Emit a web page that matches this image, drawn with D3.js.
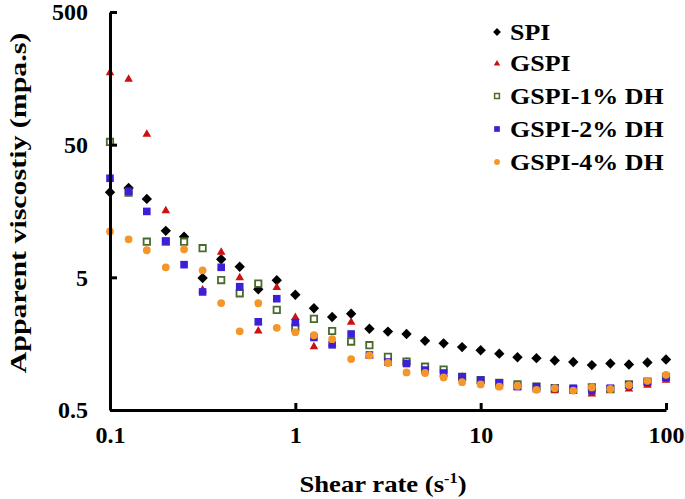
<!DOCTYPE html>
<html>
<head>
<meta charset="utf-8">
<script src="https://cdn.jsdelivr.net/npm/d3@7"></script>
<style>
  html, body { margin: 0; padding: 0; background: #fff; }
  svg { display: block; }
  text { font-family: "Liberation Serif", "Times New Roman", serif; font-weight: bold; fill: #000; }
</style>
</head>
<body>
<svg id="chart" width="685" height="499"></svg>
<script>
// ---- data ----
const shearRates = [0.1, 0.126, 0.158, 0.2, 0.251, 0.316, 0.398, 0.501, 0.631, 0.794,
  1, 1.26, 1.58, 2, 2.51, 3.16, 3.98, 5.01, 6.31, 7.94,
  10, 12.6, 15.8, 20, 25.1, 31.6, 39.8, 50.1, 63.1, 79.4, 100];

const spi = [21.9, 23.6, 19.5, 11.2, 10.1, 4.94, 6.84, 6.01, 4.06, 4.75,
  3.70, 2.92, 2.51, 2.66, 2.05, 1.95, 1.87, 1.66, 1.59, 1.49,
  1.41, 1.33, 1.25, 1.23, 1.18, 1.15, 1.09, 1.12, 1.10, 1.14, 1.20];

const gspi = [177, 158, 60.9, 16.1, 9.4, 4.08, 7.85, 5.05, 2.00, 4.25,
  2.53, 1.52, 1.60, 2.33, 1.30, 1.19, 1.17, 1.02, 0.95, 0.90,
  0.84, 0.77, 0.75, 0.72, 0.71, 0.70, 0.67, 0.71, 0.73, 0.78, 0.85];

const gspi1 = [52.4, 21.7, 9.28, 9.3, 9.28, 8.29, 4.77, 3.79, 4.48, 2.84,
  2.09, 2.43, 1.97, 1.64, 1.54, 1.26, 1.16, 1.06, 1.01, 0.89,
  0.84, 0.80, 0.78, 0.75, 0.73, 0.72, 0.74, 0.72, 0.78, 0.82, 0.89];

const gspi2 = [27.9, 22.3, 15.7, 9.39, 6.23, 3.88, 5.95, 4.25, 2.31, 3.45,
  2.28, 1.76, 1.55, 1.87, 1.30, 1.15, 1.12, 1.00, 0.95, 0.89,
  0.84, 0.80, 0.75, 0.75, 0.73, 0.73, 0.70, 0.73, 0.77, 0.81, 0.88];

const gspi4 = [11.1, 9.67, 8.00, 5.95, 8.13, 5.65, 3.20, 1.96, 3.19, 2.08,
  1.93, 1.83, 1.71, 1.21, 1.29, 1.13, 0.96, 0.95, 0.88, 0.81,
  0.78, 0.75, 0.76, 0.71, 0.73, 0.70, 0.74, 0.72, 0.77, 0.83, 0.92];

const seriesNames = ["SPI", "GSPI", "GSPI-1% DH", "GSPI-2% DH", "GSPI-4% DH"];
const xTicks = [0.1, 1, 10, 100];
const yTicks = [0.5, 5, 50, 500];
const xTickLabels = ["0.1", "1", "10", "100"];
const yTickLabels = ["0.5", "5", "50", "500"];

// ---- styles ----
const styles = [
  { shape: "diamond", fill: "#000000", stroke: "none" },
  { shape: "triangle", fill: "#cc1111", stroke: "none" },
  { shape: "square", fill: "#ffffff", stroke: "#4b6b2c" },
  { shape: "fsquare", fill: "#3b1fd9", stroke: "none" },
  { shape: "circle", fill: "#f5962a", stroke: "none" }
];
const allSeries = [spi, gspi, gspi1, gspi2, gspi4];

const svg = d3.select("#chart");
const x = d3.scaleLog().domain([0.1, 100]).range([110, 666]);
const y = d3.scaleLog().domain([0.5, 500]).range([410, 12]);

function markerPath(shape, s) {
  const p = d3.path();
  if (shape === "diamond") {
    const r = 5.2 * s;
    p.moveTo(0, -r); p.lineTo(r, 0); p.lineTo(0, r); p.lineTo(-r, 0); p.closePath();
  } else if (shape === "triangle") {
    const w = 4.3 * s, h = 7.5 * s;
    p.moveTo(0, -h * 0.55); p.lineTo(w, h * 0.45); p.lineTo(-w, h * 0.45); p.closePath();
  } else if (shape === "square") {
    const r = 3.2 * s;
    p.rect(-r, -r, 2 * r, 2 * r);
  } else if (shape === "fsquare") {
    const r = 3.8 * s;
    p.rect(-r, -r, 2 * r, 2 * r);
  } else {
    p.arc(0, 0, 3.9 * s, 0, 2 * Math.PI);
  }
  return p.toString();
}

// ---- points ----
allSeries.forEach((vals, si) => {
  const st = styles[si];
  svg.append("g")
    .selectAll("path")
    .data(vals.map((v, i) => ({ x: shearRates[i], y: v })))
    .join("path")
    .attr("transform", d => `translate(${x(d.x)},${y(d.y)})`)
    .attr("d", markerPath(st.shape, 1))
    .attr("fill", st.fill)
    .attr("stroke", st.stroke)
    .attr("stroke-width", st.stroke === "none" ? 0 : 1.8);
});

// ---- axes ----
const xAxis = svg.append("g")
  .attr("transform", "translate(0,410)")
  .call(d3.axisBottom(x).tickValues(xTicks).tickFormat((d, i) => xTickLabels[i])
    .tickSizeInner(-7).tickSizeOuter(0).tickPadding(16));
xAxis.select(".domain").attr("stroke", "#000").attr("stroke-width", 3);
xAxis.selectAll(".tick line").attr("stroke", "#000").attr("stroke-width", 3);
xAxis.selectAll(".tick text")
  .attr("font-size", 24).attr("font-family", "Liberation Serif").attr("font-weight", "bold")
  .attr("fill", "#000");

const yAxis = svg.append("g")
  .attr("transform", "translate(110,0)")
  .call(d3.axisLeft(y).tickValues(yTicks).tickFormat((d, i) => yTickLabels[i])
    .tickSizeInner(-7).tickSizeOuter(0).tickPadding(22));
yAxis.select(".domain").attr("stroke", "#000").attr("stroke-width", 3);
yAxis.selectAll(".tick line").attr("stroke", "#000").attr("stroke-width", 3);
yAxis.selectAll(".tick text")
  .attr("font-size", 24).attr("font-family", "Liberation Serif").attr("font-weight", "bold")
  .attr("fill", "#000");

// ---- axis titles ----
const xt = svg.append("text")
  .attr("transform", "translate(383,492) scale(1.16,1)")
  .attr("text-anchor", "middle")
  .attr("font-size", 23);
xt.append("tspan").text("Shear rate (s");
xt.append("tspan").attr("font-size", 14).attr("dy", -9).text("-1");
xt.append("tspan").attr("dy", 9).text(")");

svg.append("text")
  .attr("transform", "translate(26,203) rotate(-90) scale(1.3,1)")
  .attr("text-anchor", "middle")
  .attr("font-size", 23)
  .text("Apparent viscostiy (mpa.s)");

// ---- legend ----
const leg = svg.append("g");
const legY = [32, 63, 96, 129, 162];
seriesNames.forEach((name, i) => {
  const st = styles[i];
  leg.append("path")
    .attr("transform", `translate(497,${legY[i]})`)
    .attr("d", markerPath(st.shape, 0.75))
    .attr("fill", st.fill)
    .attr("stroke", st.stroke)
    .attr("stroke-width", st.stroke === "none" ? 0 : 1.5);
  leg.append("text")
    .attr("transform", `translate(510,${legY[i] + 8}) scale(1.13,1)`)
    .attr("font-size", 23)
    .text(name);
});
</script>
</body>
</html>
